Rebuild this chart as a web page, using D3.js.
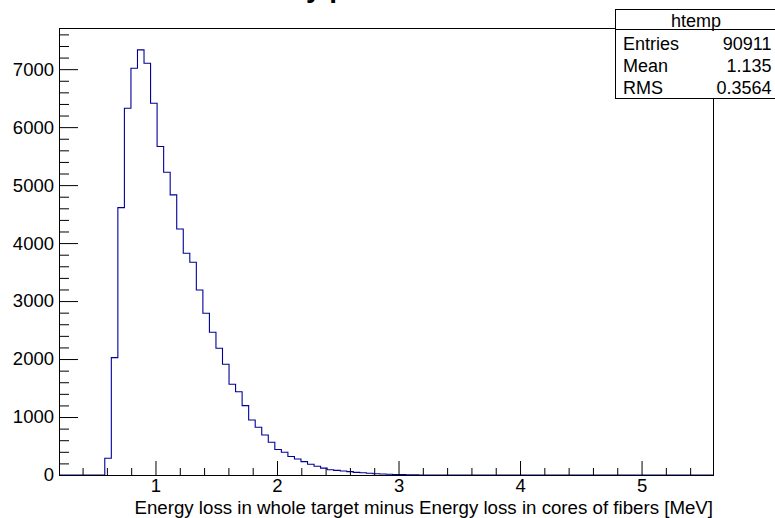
<!DOCTYPE html>
<html>
<head>
<meta charset="utf-8">
<script src="https://cdn.jsdelivr.net/npm/d3@7"></script>
<style>
body { margin: 0; background: #fff; }
svg { font-family: "Liberation Sans", Arial, Helvetica, sans-serif; display: block; }
</style>
</head>
<body>
<div id="chart"></div>
<script>
// histogram binning (htemp, 100 bins)
const nBins = 100;
const xMin = 0.206;
const xMax = 5.588;
const yMax = 7710;

// bin contents
const counts = [
  0, 0, 0, 0, 0, 0, 0, 288, 2024, 4612,
  6327, 7017, 7333, 7103, 6413, 5665, 5222, 4831, 4244, 3825,
  3670, 3192, 2790, 2462, 2186, 1910, 1565, 1437, 1196, 949,
  823, 690, 564, 440, 392, 320, 276, 230, 185, 150,
  118, 90, 80, 69, 58, 46, 38, 29, 22, 18,
  14, 8, 6, 5, 3, 0, 0, 0, 0, 0,
  0, 0, 0, 0, 0, 0, 0, 0, 0, 0,
  0, 0, 0, 0, 0, 0, 0, 0, 0, 0,
  0, 0, 0, 0, 0, 0, 0, 0, 0, 0,
  0, 0, 0, 0, 0, 0, 0, 0, 0, 0
];

const xMajorTicks = [1, 2, 3, 4, 5];
const xMinorTicks = [0.4, 0.6, 0.8, 1.2, 1.4, 1.6, 1.8, 2.2, 2.4, 2.6, 2.8, 3.2, 3.4, 3.6, 3.8, 4.2, 4.4, 4.6, 4.8, 5.2, 5.4];
const yMajorTicks = [0, 1000, 2000, 3000, 4000, 5000, 6000, 7000];
const yMinorTicks = [200, 400, 600, 800, 1200, 1400, 1600, 1800, 2200, 2400, 2600, 2800, 3200, 3400, 3600, 3800,
  4200, 4400, 4600, 4800, 5200, 5400, 5600, 5800, 6200, 6400, 6600, 6800, 7200, 7400, 7600];

const xTitle = 'Energy loss in whole target minus Energy loss in cores of fibers [MeV]';
const histTitle = 'Secondary particles';
const statsName = 'htemp';
const statsLabels = ['Entries', 'Mean', 'RMS'];
const statsValues = ['90911', '1.135', '0.3564'];

const width = 775;
const height = 518;
const frame = { left: 59, right: 713, top: 28, bottom: 475 };

const svg = d3.select('#chart').append('svg')
  .attr('width', width)
  .attr('height', height);

const x = d3.scaleLinear().domain([xMin, xMax]).range([frame.left, frame.right]);
const y = d3.scaleLinear().domain([0, yMax]).range([frame.bottom, frame.top]);

// title, mostly above the top edge of the picture
const title = svg.append('text')
  .attr('y', -3)
  .attr('font-size', 28)
  .attr('font-weight', 'bold')
  .text(histTitle);
const prefix = title.node().getSubStringLength(0, 8);
title.attr('x', 306 - prefix);

// histogram outline
const binWidth = (xMax - xMin) / nBins;
const points = counts.map((c, i) => [xMin + i * binWidth, c]);
points.push([xMax, 0]);

const line = d3.line()
  .x(d => x(d[0]))
  .y(d => y(d[1]))
  .curve(d3.curveStepAfter);

svg.append('path')
  .datum(points)
  .attr('d', line)
  .attr('fill', 'none')
  .attr('stroke', '#000099')
  .attr('stroke-width', 1.1);

// axes, ticks pointing into the frame
function styleAxis(g) {
  g.select('.domain').remove();
  g.selectAll('line').attr('stroke', '#000');
  g.selectAll('text').attr('font-size', 18.5).attr('fill', '#000');
}

svg.append('g')
  .attr('transform', `translate(0,${frame.bottom})`)
  .call(d3.axisBottom(x).tickValues(xMajorTicks).tickSizeInner(-14).tickSizeOuter(0).tickPadding(4).tickFormat(d3.format('d')))
  .call(styleAxis);

svg.append('g')
  .attr('transform', `translate(0,${frame.bottom})`)
  .call(d3.axisBottom(x).tickValues(xMinorTicks).tickSizeInner(-7).tickSizeOuter(0).tickFormat(''))
  .call(styleAxis);

svg.append('g')
  .attr('transform', `translate(${frame.left},0)`)
  .call(d3.axisLeft(y).tickValues(yMajorTicks).tickSizeInner(-19).tickSizeOuter(0).tickPadding(5).tickFormat(d3.format('d')))
  .call(styleAxis);

svg.append('g')
  .attr('transform', `translate(${frame.left},0)`)
  .call(d3.axisLeft(y).tickValues(yMinorTicks).tickSizeInner(-10).tickSizeOuter(0).tickFormat(''))
  .call(styleAxis);

// frame
svg.append('rect')
  .attr('x', frame.left + 0.5)
  .attr('y', frame.top + 0.5)
  .attr('width', frame.right - frame.left)
  .attr('height', frame.bottom - frame.top)
  .attr('fill', 'none')
  .attr('stroke', '#000');

svg.append('text')
  .attr('x', frame.right)
  .attr('y', 514)
  .attr('text-anchor', 'end')
  .attr('font-size', 18.7)
  .text(xTitle);

// stats box
const box = { x: 615, y: 9, w: 162, h: 89 };
const stats = svg.append('g');
stats.append('rect')
  .attr('x', box.x + 0.5)
  .attr('y', box.y + 0.5)
  .attr('width', box.w)
  .attr('height', box.h)
  .attr('fill', '#fff')
  .attr('stroke', '#000');
stats.append('line')
  .attr('x1', box.x)
  .attr('x2', box.x + box.w)
  .attr('y1', 29.5)
  .attr('y2', 29.5)
  .attr('stroke', '#000');
stats.append('text')
  .attr('x', box.x + box.w / 2)
  .attr('y', 26.5)
  .attr('text-anchor', 'middle')
  .attr('font-size', 18)
  .text(statsName);
statsLabels.forEach((lab, i) => {
  const by = 49.5 + i * 22;
  stats.append('text').attr('x', 623).attr('y', by).attr('font-size', 18).text(lab);
  stats.append('text').attr('x', 771.5).attr('y', by).attr('text-anchor', 'end').attr('font-size', 18).text(statsValues[i]);
});
</script>
</body>
</html>
